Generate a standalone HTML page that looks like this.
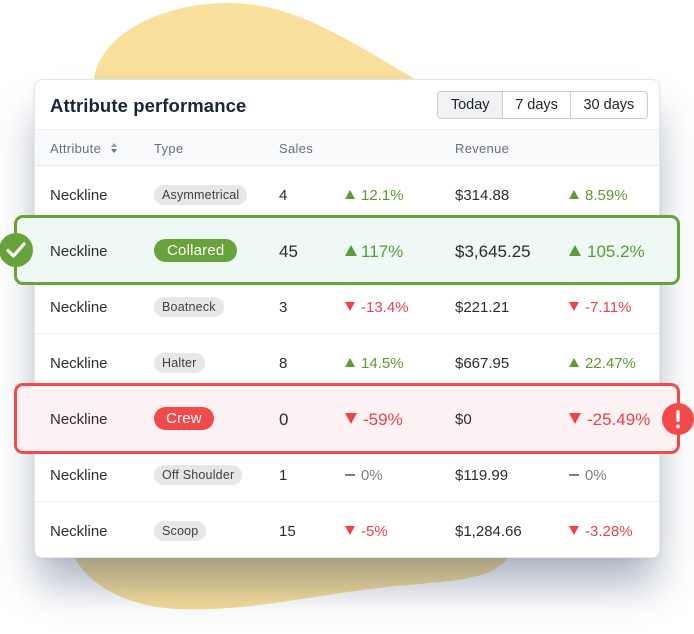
<!DOCTYPE html>
<html><head><meta charset="utf-8">
<style>
*{margin:0;padding:0;box-sizing:border-box}
html,body{width:694px;height:634px;overflow:hidden;background:#fff}
body{position:relative;font-family:"Liberation Sans",Arial,sans-serif;color:#1f2328}
.abs{position:absolute}
#blob{position:absolute;left:0;top:0}
.card{position:absolute;left:34px;top:79px;width:626px;height:479px;background:#fff;border:1px solid #e3e5e8;border-radius:8px;box-shadow:0 30px 42px -4px rgba(45,65,100,0.40),0 2px 6px rgba(0,0,0,0.04)}
.title{position:absolute;left:50px;top:93px;font-size:18.5px;font-weight:bold;color:#18243a;line-height:26px;letter-spacing:0.1px}
.btns{position:absolute;left:437px;top:91px;width:211px;height:28px;border:1px solid #c9ccd1;border-radius:4px;display:flex;overflow:hidden;background:#fff}
.btns div{height:100%;line-height:27px;font-size:14.5px;color:#1f2328;text-align:center;border-left:1px solid #c9ccd1}
.btns div:first-child{border-left:none;background:#f1f2f4}
.hdr{position:absolute;left:35px;top:129px;width:624px;height:37px;background:#f8f9fa;border-top:1px solid #eceef0;border-bottom:1px solid #e8eaed}
.ht{position:absolute;top:130px;line-height:37px;font-size:13px;color:#6b6f76;letter-spacing:0.3px}
.row{position:absolute;left:35px;width:624px;height:56px;border-bottom:1px solid #eeeff1}
.t{position:absolute;line-height:20px;font-size:15px;color:#2a2d31;white-space:nowrap;margin-top:2px}
.pill{position:absolute;height:20px;line-height:20px;padding:0 8px;border-radius:10px;background:#e6e7e9;color:#3e4043;font-size:12.5px;white-space:nowrap;letter-spacing:0.2px}
.up{position:absolute;width:0;height:0;border-left:5px solid transparent;border-right:5px solid transparent;border-bottom:9px solid #5e9d35}
.dn{position:absolute;width:0;height:0;border-left:5px solid transparent;border-right:5px solid transparent;border-top:9px solid #ef4444}
.dash{position:absolute;width:10px;height:2px;background:#7b8088}
.g{color:#5a9a36}.r{color:#e2454b}.n{color:#7b8088}
.hl{position:absolute;left:14px;width:666px;border-radius:9px}
</style></head><body>

<svg id="blob" width="694" height="634" viewBox="0 0 694 634">
<defs>
<linearGradient id="bg1" x1="0" y1="0" x2="0" y2="1">
<stop offset="0" stop-color="#f9e09c"/><stop offset="1" stop-color="#f6dc98"/>
</linearGradient>
</defs>
<path d="M94,79 C100,35 160,3 228,3 C292,3 340,35 415,79 L600,300 L508,557 C495,578 460,580 420,584 C330,590 260,612 178,609 C120,606 88,582 74,557 L60,300 Z" fill="url(#bg1)"/>
</svg>

<div class="card"></div>
<div class="title">Attribute performance</div>
<div class="btns"><div style="width:65px">Today</div><div style="width:68px">7 days</div><div style="width:78px">30 days</div></div>

<div class="hdr"></div>
<div class="ht" style="left:50px">Attribute</div>
<div class="abs" style="left:111px;top:143px;width:0;height:0;border-left:3px solid transparent;border-right:3px solid transparent;border-bottom:4px solid #9a9ea5"></div>
<div class="abs" style="left:111px;top:149px;width:0;height:0;border-left:3px solid transparent;border-right:3px solid transparent;border-top:4px solid #6b6f76"></div>
<div class="ht" style="left:154px">Type</div>
<div class="ht" style="left:279px">Sales</div>
<div class="ht" style="left:455px">Revenue</div>

<div class="row" style="top:166px"></div>
<div class="row" style="top:222px"></div>
<div class="row" style="top:278px"></div>
<div class="row" style="top:334px"></div>
<div class="row" style="top:390px"></div>
<div class="row" style="top:446px"></div>
<div class="row" style="top:502px;border-bottom:none;height:55px"></div>

<!-- Row 1 -->
<div class="t" style="left:50px;top:184px">Neckline</div>
<div class="pill" style="left:154px;top:185px">Asymmetrical</div>
<div class="t" style="left:279px;top:184px">4</div>
<div class="up" style="left:345px;top:190px"></div><div class="t g" style="left:361px;top:184px">12.1%</div>
<div class="t" style="left:455px;top:184px">$314.88</div>
<div class="up" style="left:569px;top:190px"></div><div class="t g" style="left:585px;top:184px">8.59%</div>

<!-- Row 2 highlighted green -->
<div class="hl" style="top:215px;height:70px;background:#eef8f4;border:3px solid #68a23a"></div>
<div class="t" style="left:50px;top:240px">Neckline</div>
<div class="pill" style="left:154px;top:239px;height:23px;line-height:23px;border-radius:12px;padding:0 13px;background:#68a23a;color:#fff;font-size:15px">Collared</div>
<div class="t" style="left:279px;top:240px;font-size:17px">45</div>
<div class="up" style="left:345px;top:245px;border-left-width:6px;border-right-width:6px;border-bottom-width:11px"></div><div class="t g" style="left:361px;top:240px;font-size:17px">117%</div>
<div class="t" style="left:455px;top:240px;font-size:17px">$3,645.25</div>
<div class="up" style="left:569px;top:245px;border-left-width:6px;border-right-width:6px;border-bottom-width:11px"></div><div class="t g" style="left:587px;top:240px;font-size:17px">105.2%</div>
<svg class="abs" style="left:-1px;top:233px" width="34" height="34" viewBox="0 0 34 34"><circle cx="17" cy="17" r="17" fill="#68a23a"/><path d="M9 17.5 L14.5 23 L25 11" stroke="#fff" stroke-width="3.2" fill="none" stroke-linecap="round" stroke-linejoin="round"/></svg>

<!-- Row 3 -->
<div class="t" style="left:50px;top:296px">Neckline</div>
<div class="pill" style="left:154px;top:297px">Boatneck</div>
<div class="t" style="left:279px;top:296px">3</div>
<div class="dn" style="left:345px;top:302px"></div><div class="t r" style="left:361px;top:296px">-13.4%</div>
<div class="t" style="left:455px;top:296px">$221.21</div>
<div class="dn" style="left:569px;top:302px"></div><div class="t r" style="left:585px;top:296px">-7.11%</div>

<!-- Row 4 -->
<div class="t" style="left:50px;top:352px">Neckline</div>
<div class="pill" style="left:154px;top:353px">Halter</div>
<div class="t" style="left:279px;top:352px">8</div>
<div class="up" style="left:345px;top:358px"></div><div class="t g" style="left:361px;top:352px">14.5%</div>
<div class="t" style="left:455px;top:352px">$667.95</div>
<div class="up" style="left:569px;top:358px"></div><div class="t g" style="left:585px;top:352px">22.47%</div>

<!-- Row 5 highlighted red -->
<div class="hl" style="top:383px;height:71px;background:#fdf2f3;border:3px solid #f24a4a"></div>
<div class="t" style="left:50px;top:408px">Neckline</div>
<div class="pill" style="left:154px;top:407px;height:23px;line-height:23px;border-radius:12px;padding:0 12px;background:#f24a4a;color:#fff;font-size:15px">Crew</div>
<div class="t" style="left:279px;top:408px;font-size:17px">0</div>
<div class="dn" style="left:345px;top:413px;border-left-width:6px;border-right-width:6px;border-top-width:11px"></div><div class="t r" style="left:363px;top:408px;font-size:17px">-59%</div>
<div class="t" style="left:455px;top:408px;font-size:15px">$0</div>
<div class="dn" style="left:569px;top:413px;border-left-width:6px;border-right-width:6px;border-top-width:11px"></div><div class="t r" style="left:587px;top:408px;font-size:17px">-25.49%</div>
<svg class="abs" style="left:662px;top:403px" width="32" height="32" viewBox="0 0 32 32"><circle cx="16" cy="16" r="16" fill="#f24a4a"/><rect x="14.4" y="7" width="3.2" height="12" rx="1.6" fill="#fff"/><circle cx="16" cy="23.5" r="1.9" fill="#fff"/></svg>

<!-- Row 6 -->
<div class="t" style="left:50px;top:464px">Neckline</div>
<div class="pill" style="left:154px;top:465px">Off Shoulder</div>
<div class="t" style="left:279px;top:464px">1</div>
<div class="dash" style="left:345px;top:474px"></div><div class="t n" style="left:361px;top:464px">0%</div>
<div class="t" style="left:455px;top:464px">$119.99</div>
<div class="dash" style="left:569px;top:474px"></div><div class="t n" style="left:585px;top:464px">0%</div>

<!-- Row 7 -->
<div class="t" style="left:50px;top:520px">Neckline</div>
<div class="pill" style="left:154px;top:521px">Scoop</div>
<div class="t" style="left:279px;top:520px">15</div>
<div class="dn" style="left:345px;top:526px"></div><div class="t r" style="left:361px;top:520px">-5%</div>
<div class="t" style="left:455px;top:520px">$1,284.66</div>
<div class="dn" style="left:569px;top:526px"></div><div class="t r" style="left:585px;top:520px">-3.28%</div>

</body></html>
